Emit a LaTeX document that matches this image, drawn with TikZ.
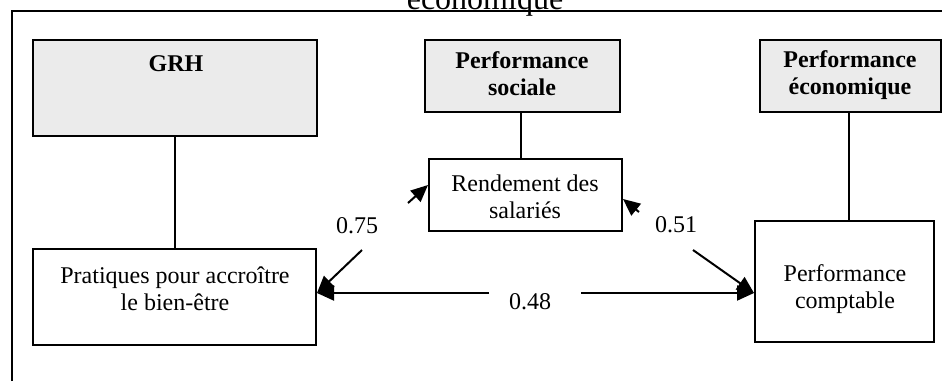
\documentclass[tikz,border=0pt]{standalone}
\usepackage{fontspec}
\setmainfont{Liberation Serif}
\usetikzlibrary{arrows.meta}
\begin{document}
\begin{tikzpicture}[x=0.5pt,y=-0.5pt,
  box/.style={draw, line width=1pt, inner sep=0pt},
  graybox/.style={box, fill=black!8, line width=1.2pt},
  txt/.style={font=\fontsize{12}{13.5}\selectfont, align=center, inner sep=0pt},
  btxt/.style={txt, font=\fontsize{12}{13.5}\selectfont\bfseries},
  arr/.style={line width=1pt, -{Triangle[length=8.5pt,width=7.5pt]}},
  link/.style={line width=1pt}]
\useasboundingbox (0,0) rectangle (942,381);
% frame
\draw[line width=1pt] (12,381) -- (12,11) -- (942,11);
\node[font=\fontsize{16}{19}\selectfont, anchor=base, inner sep=0pt] (title) at (485,9.5) {économique};
% boxes
\node[graybox, minimum width=142pt, minimum height=48pt] (grh) at (175,88) {};
\node[graybox, minimum width=97.5pt, minimum height=36pt] (soc) at (522.5,76) {};
\node[graybox, minimum width=90.5pt, minimum height=36pt] (eco) at (850.5,76) {};
\node[box, minimum width=96.5pt, minimum height=36pt] (rend) at (525.5,195) {};
\node[box, minimum width=141.5pt, minimum height=48pt] (prat) at (174.5,297) {};
\node[box, minimum width=89.5pt, minimum height=60.5pt] (compt) at (844.5,281.5) {};
% texts
\node[btxt] (tgrh) at (176,64) {GRH};
\node[btxt] (tsoc) at (522,74) {Performance\\sociale};
\node[btxt] (teco) at (850,75) {Performance\\économique};
\node[txt] (trend) at (525,197) {Rendement des\\salariés};
\node[txt] (tprat) at (175,289) {Pratiques pour accroître\\le bien-être};
\node[txt] (tcompt) at (845,289) {Performance\\comptable};
% vertical links
\draw[link] (grh.south) -- (grh.south |- prat.north);
\draw[link] ([xshift=-0.75pt]soc.south) -- ([xshift=-0.75pt]soc.south |- rend.north);
\draw[link] ([xshift=-0.75pt]eco.south) -- ([xshift=-0.75pt]eco.south |- compt.north);
% 0.48
\coordinate (g48l) at (489,293);
\coordinate (g48r) at (581,293);
\draw[arr] (g48l) -- (g48l -| prat.east);
\draw[arr] (g48r) -- (g48r -| compt.west);
\node[txt] (l48) at (530,301.5) {0.48};
% 0.75
\coordinate (g75a) at (362,250);
\coordinate (g75b) at (408,203);
\draw[arr] (g75a) -- ([yshift=2pt]prat.east);
\draw[arr] (g75b) -- ([yshift=5pt]rend.west);
\node[txt] (l75) at (357,225.5) {0.75};
% 0.51
\coordinate (g51a) at (639,212);
\coordinate (g51b) at (693,250);
\draw[arr] (g51a) -- ([yshift=-2pt]rend.east);
\draw[arr] (g51b) -- ([yshift=-5.75pt]compt.west);
\node[txt] (l51) at (676,225) {0.51};
\end{tikzpicture}
\end{document}
